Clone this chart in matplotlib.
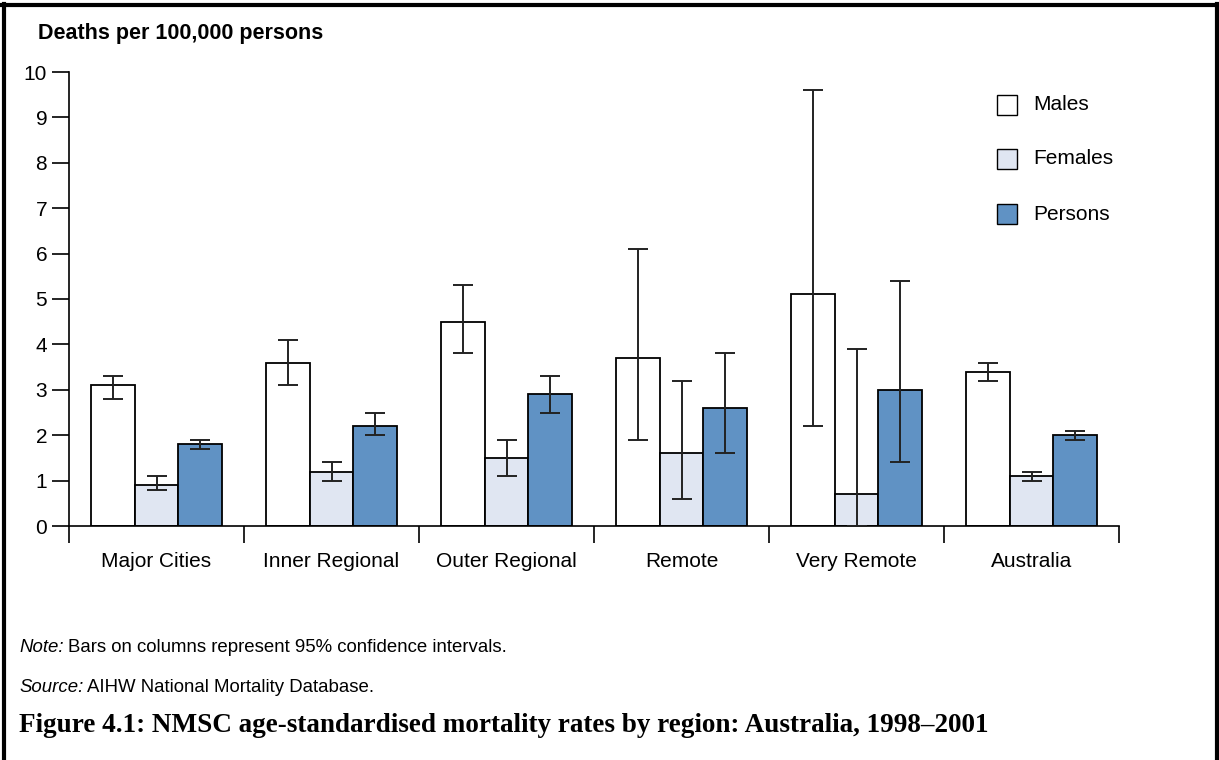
import matplotlib
matplotlib.use("Agg")
import matplotlib.pyplot as plt
from matplotlib.lines import Line2D
from matplotlib.patches import Rectangle
import numpy as np

categories = ["Major Cities", "Inner Regional", "Outer Regional", "Remote", "Very Remote", "Australia"]
series_names = ["Males", "Females", "Persons"]
males = [3.1, 3.6, 4.5, 3.7, 5.1, 3.4]
males_lo = [2.8, 3.1, 3.8, 1.9, 2.2, 3.2]
males_hi = [3.3, 4.1, 5.3, 6.1, 9.6, 3.6]
females = [0.9, 1.2, 1.5, 1.6, 0.7, 1.1]
females_lo = [0.8, 1.0, 1.1, 0.6, 0.0, 1.0]
females_hi = [1.1, 1.4, 1.9, 3.2, 3.9, 1.2]
persons = [1.8, 2.2, 2.9, 2.6, 3.0, 2.0]
persons_lo = [1.7, 2.0, 2.5, 1.6, 1.4, 1.9]
persons_hi = [1.9, 2.5, 3.3, 3.8, 5.4, 2.1]
y_ticks = [0, 1, 2, 3, 4, 5, 6, 7, 8, 9, 10]

colors = ["#ffffff", "#e0e6f2", "#6092c4"]
W, H = 1219, 760
plt.rcParams['font.family'] = ['Liberation Sans', 'DejaVu Sans']
fig = plt.figure(figsize=(W / 100, H / 100), dpi=100)

ax = fig.add_axes([69 / W, 1 - 526 / H, (1119 - 69) / W, (526 - 72) / H])

x = np.arange(len(categories))
bw = 0.25
data = [(males, males_lo, males_hi), (females, females_lo, females_hi), (persons, persons_lo, persons_hi)]
for i, (vals, lo, hi) in enumerate(data):
    pos = x + (i - 1) * bw
    ax.bar(pos, vals, width=bw, color=colors[i], edgecolor="black", linewidth=1.3, zorder=2)
    v = np.array(vals)
    yerr = np.vstack([v - np.array(lo), np.array(hi) - v])
    ax.errorbar(pos, v, yerr=yerr, fmt="none", ecolor="#222222", elinewidth=1.4,
                capsize=7.2, capthick=1.4, zorder=3)

ax.set_xlim(-0.5, len(categories) - 0.5)
ax.set_ylim(0, 10)
ax.set_yticks(y_ticks)
ax.set_yticklabels([str(t) for t in y_ticks], fontsize=15)
ax.set_xticks(np.arange(len(categories) + 1) - 0.5)
ax.set_xticklabels([])
ax.set_xticks(x, minor=True)
ax.set_xticklabels(categories, minor=True, fontsize=15)
ax.tick_params(axis="x", which="major", direction="out", length=12.2, width=1.2)
ax.tick_params(axis="x", which="minor", length=0, pad=19)
ax.tick_params(axis="y", direction="out", length=12.2, width=1.2, pad=3.5)
for s in ["top", "right"]:
    ax.spines[s].set_visible(False)
for s in ["left", "bottom"]:
    ax.spines[s].set_linewidth(1.2)

fig.text(38 / W, 1 - 33 / H, "Deaths per 100,000 persons", fontsize=15.5, fontweight="bold",
         ha="left", va="center")

# legend
leg_y = [105, 159, 214]
for name, c, yy in zip(series_names, colors, leg_y):
    fig.patches.append(Rectangle((997 / W, 1 - (yy + 10) / H), 20 / W, 20 / H,
                                 transform=fig.transFigure, facecolor=c, edgecolor="black",
                                 linewidth=1.0))
    fig.text(1033 / W, 1 - yy / H, name, fontsize=15, ha="left", va="center")

renderer = fig.canvas.get_renderer()


def two_part(y, first, rest, size):
    t1 = fig.text(19 / W, 1 - y / H, first, fontsize=size, style="italic", ha="left", va="center")
    bb = t1.get_window_extent(renderer=renderer)
    fig.text((bb.x1 + 4) / W, 1 - y / H, rest, fontsize=size, ha="left", va="center")


two_part(648, "Note:", "Bars on columns represent 95% confidence intervals.", 13.4)
two_part(687, "Source:", "AIHW National Mortality Database.", 13.4)
fig.text(19 / W, 1 - 725 / H, "Figure 4.1: NMSC age-standardised mortality rates by region: Australia, 1998\u20132001",
         fontsize=19.5, fontweight="bold", family=["Liberation Serif", "DejaVu Serif"],
         ha="left", va="center")

# frame (top, left, right)
fig.add_artist(Line2D([3.5 / W, 3.5 / W], [0, 1 - 4 / H], transform=fig.transFigure, color="black", lw=3))
fig.add_artist(Line2D([1217 / W, 1217 / W], [0, 1 - 4 / H], transform=fig.transFigure, color="black", lw=3))
fig.add_artist(Line2D([2 / W, 1218.5 / W], [1 - 4.5 / H, 1 - 4.5 / H], transform=fig.transFigure, color="black", lw=3))

fig.savefig("out.png", dpi=100)
